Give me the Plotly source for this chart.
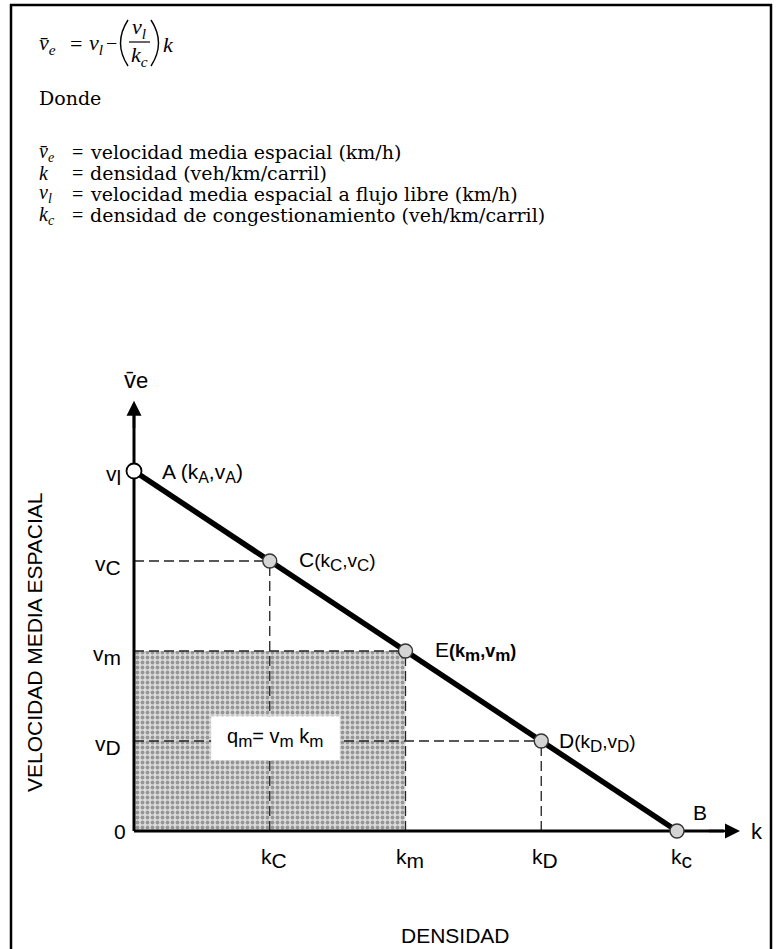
import plotly.graph_objects as go

W, H = 776, 949

# ---------------- data ----------------
point_names = ["A", "C", "E", "D", "B"]
k_vals = [0, 25, 50, 75, 100]          # densidad
v_vals = [100, 75, 50, 25, 0]          # velocidad media espacial
SUBS = "<sub><span style='font-size:{s}px'>{t}</span></sub>"
point_labels = ["A (k" + SUBS.format(s=16, t="A") + ",v" + SUBS.format(s=16, t="A") + ")",
                "C<span style='font-size:19px'>(k" + SUBS.format(s=17, t="C") + ",v" + SUBS.format(s=17, t="C") + ")</span>",
                "E<span style='font-size:18px'><b>(k" + SUBS.format(s=17, t="m") + ",v" + SUBS.format(s=17, t="m") + ")</b></span>",
                "D<span style='font-size:19px'>(k" + SUBS.format(s=17, t="D") + ",v" + SUBS.format(s=17, t="D") + ")</span>",
                "B"]
x_tick_vals = [25, 50, 75, 100]
x_tick_subs = ["C", "m", "D", "c"]
y_tick_vals = [100, 75, 50, 25, 0]
y_tick_subs = ["l", "C", "m", "D", None]
k_max_arrow = 111.6
v_max_arrow = 119.5

definitions = [
    ("<i>v\u0304<sub>e</sub></i>", "velocidad media espacial (km/h)"),
    ("<i>k</i>", "densidad (veh/km/carril)"),
    ("<i>v<sub>l</sub></i>", "velocidad media espacial a flujo libre (km/h)"),
    ("<i>k<sub>c</sub></i>", "densidad de congestionamiento (veh/km/carril)"),
]

# pixel mapping (plot area = full figure)
X0PX, XSCALE = 134, 5.43
Y0PX, YSCALE = 831, 3.6
xr = [(0 - X0PX) / XSCALE, (W - X0PX) / XSCALE]
yr = [(Y0PX - H) / YSCALE, Y0PX / YSCALE]

def px(x):
    return x / W

def py(y):
    return 1 - y / H

SANS = "Liberation Sans, Arial, sans-serif"
SERIF = "DejaVu Serif, Liberation Serif, serif"
MATH = "Liberation Serif, Times New Roman, serif"

fig = go.Figure()

# shaded rectangle q_m
km, vm = k_vals[2], v_vals[2]
fig.add_trace(go.Scatter(
    x=[0, km, km, 0, 0], y=[0, 0, vm, vm, 0], mode="lines", fill="toself",
    line=dict(width=0), fillcolor="rgba(0,0,0,0)",
    fillpattern=dict(shape=".", fgcolor="#505050", bgcolor="#dcdcdc", size=5, solidity=0.45),
    hoverinfo="skip", showlegend=False))

# dashed guide lines
dash = "10px,5px"
for k, v in zip(k_vals[1:4], v_vals[1:4]):
    fig.add_trace(go.Scatter(x=[0, k], y=[v, v], mode="lines",
                             line=dict(color="#222", width=1.3, dash=dash),
                             hoverinfo="skip", showlegend=False))
    fig.add_trace(go.Scatter(x=[k, k], y=[0, v], mode="lines",
                             line=dict(color="#222", width=1.3, dash=dash),
                             hoverinfo="skip", showlegend=False))

# white label box
bx0, bx1, by0, by1 = 14.2, 37.9, 19.7, 31.9
fig.add_trace(go.Scatter(x=[bx0, bx1, bx1, bx0, bx0], y=[by0, by0, by1, by1, by0],
                         mode="lines", fill="toself", fillcolor="white",
                         line=dict(width=0), hoverinfo="skip", showlegend=False))

# axes lines
fig.add_trace(go.Scatter(x=[0, 0], y=[0, v_max_arrow - 4], mode="lines",
                         line=dict(color="black", width=3), hoverinfo="skip", showlegend=False))
fig.add_trace(go.Scatter(x=[0, k_max_arrow - 3], y=[0, 0], mode="lines",
                         line=dict(color="black", width=3), hoverinfo="skip", showlegend=False))

# main line A-B
fig.add_trace(go.Scatter(x=[k_vals[0], k_vals[-1]], y=[v_vals[0], v_vals[-1]], mode="lines",
                         line=dict(color="black", width=5.5), hoverinfo="skip", showlegend=False))

# points
fig.add_trace(go.Scatter(x=k_vals[:1], y=v_vals[:1], mode="markers",
                         marker=dict(size=15, color="white", line=dict(color="black", width=1.8)),
                         hoverinfo="skip", showlegend=False))
fig.add_trace(go.Scatter(x=k_vals[1:], y=v_vals[1:], mode="markers",
                         marker=dict(size=14, color="#d4d4d4", line=dict(color="#333", width=1.4)),
                         hoverinfo="skip", showlegend=False))

ann = []
# axis arrows
ann.append(dict(x=0, y=v_max_arrow, ax=0, ay=v_max_arrow - 8, xref="x", yref="y", axref="x", ayref="y",
                text="", showarrow=True, arrowhead=2, arrowsize=1.2, arrowwidth=2.5, arrowcolor="black"))
ann.append(dict(x=k_max_arrow, y=0, ax=k_max_arrow - 6, ay=0, xref="x", yref="y", axref="x", ayref="y",
                text="", showarrow=True, arrowhead=2, arrowsize=1.2, arrowwidth=2.5, arrowcolor="black"))

# point labels (offsets in pixels converted to data units)
lbl_pos = [(26, -2), (27, 0), (27, 0), (16, -1), (14, 19)]
for (dx, dy), t, k, v in zip(lbl_pos, point_labels, k_vals, v_vals):
    ann.append(dict(x=k + dx / XSCALE, y=v + dy / YSCALE, xref="x", yref="y", text=t, showarrow=False,
                    xanchor="left", yanchor="middle", font=dict(family=SANS, size=21, color="black")))

# y tick labels
for v, s in zip(y_tick_vals, y_tick_subs):
    t = "0" if s is None else "v" + SUBS.format(s=21, t=s)
    xoff = -6 if s is None else -11
    ann.append(dict(x=xoff / XSCALE, y=v - (0 if s is None else 4 / YSCALE), xref="x", yref="y", text=t,
                    showarrow=False, xanchor="right", yanchor="middle",
                    font=dict(family=SANS, size=21, color="black")))
# x tick labels
for k, s in zip(x_tick_vals, x_tick_subs):
    t = "k" + SUBS.format(s=21, t=s)
    ann.append(dict(x=k + 4 / XSCALE, y=-12 / YSCALE, xref="x", yref="y", text=t, showarrow=False,
                    xanchor="center", yanchor="top", font=dict(family=SANS, size=21, color="black")))

# axis name labels
ann.append(dict(x=k_max_arrow + 9 / XSCALE, y=0, xref="x", yref="y", text="k", showarrow=False,
                xanchor="left", yanchor="middle", font=dict(family=SANS, size=22, color="black")))
ann.append(dict(x=2 / XSCALE, y=v_max_arrow + 6 / YSCALE, xref="x", yref="y",
                text="v\u0304<span style='font-size:22px'>e</span>", showarrow=False,
                xanchor="center", yanchor="bottom", font=dict(family=SANS, size=24, color="black")))
ann.append(dict(x=(bx0 + bx1) / 2, y=(by0 + by1) / 2, xref="x", yref="y",
                text="q" + SUBS.format(s=17, t="m") + "= v" + SUBS.format(s=17, t="m") + " k" + SUBS.format(s=17, t="m"),
                showarrow=False, xanchor="center", yanchor="middle", font=dict(family=SANS, size=20, color="black")))
ann.append(dict(x=px(455), y=py(935), xref="paper", yref="paper", text="DENSIDAD", showarrow=False,
                xanchor="center", yanchor="middle", font=dict(family=SANS, size=21, color="black")))
ann.append(dict(x=px(34), y=py(642), xref="paper", yref="paper", text="VELOCIDAD MEDIA ESPACIAL",
                showarrow=False, textangle=-90, xanchor="center", yanchor="middle",
                font=dict(family=SANS, size=21, color="black")))

# ---------------- top text (formula and definitions) ----------------
tf = dict(family=SERIF, size=19, color="black")
mf = dict(family=MATH, size=22, color="black")
sf = dict(family=MATH, size=20, color="black")

def put(x, y, text, font, anchor="left"):
    ann.append(dict(x=px(x), y=py(y), xref="paper", yref="paper", text=text, showarrow=False,
                    xanchor=anchor, yanchor="middle", font=font))

put(37, 44, "<i>v\u0304<sub>e</sub></i>", mf)
put(76, 44, "=", mf, "center")
put(87, 44, "<i>v<sub>l</sub></i>", mf)
put(112, 43, "\u2212", dict(family=MATH, size=20, color="black"), "center")
put(139, 28, "<i>v<sub>l</sub></i>", mf, "center")
put(139, 56, "<i>k<sub>c</sub></i>", mf, "center")
put(161, 45, "<i>k</i>", mf)

put(37, 98, "Donde", tf)
for i, (sym, desc) in enumerate(definitions):
    yy = 152 + i * 21
    put(37, yy, sym, sf)
    put(77, yy, "=", sf, "center")
    put(88, yy, desc, tf)

def P(x, y):
    return f"{px(x):.5f},{py(y):.5f}"

shapes = [
    # fraction bar
    dict(type="line", xref="paper", yref="paper", x0=px(129), x1=px(150), y0=py(42), y1=py(42),
         line=dict(color="black", width=1.2)),
    # parentheses
    dict(type="path", xref="paper", yref="paper",
         path=f"M {P(128, 20)} Q {P(113, 43)} {P(128, 66)}", line=dict(color="black", width=1.4)),
    dict(type="path", xref="paper", yref="paper",
         path=f"M {P(151, 20)} Q {P(166, 43)} {P(151, 66)}", line=dict(color="black", width=1.4)),
    # frame
    dict(type="line", xref="paper", yref="paper", x0=px(11), x1=px(11), y0=py(4), y1=0,
         line=dict(color="black", width=2.5)),
    dict(type="line", xref="paper", yref="paper", x0=px(10), x1=px(772), y0=py(5), y1=py(5),
         line=dict(color="black", width=2.5)),
    dict(type="line", xref="paper", yref="paper", x0=px(771), x1=px(771), y0=py(4), y1=0,
         line=dict(color="black", width=2.5)),
]

fig.update_layout(
    width=W, height=H, margin=dict(l=0, r=0, t=0, b=0),
    paper_bgcolor="white", plot_bgcolor="white",
    xaxis=dict(range=xr, visible=False, fixedrange=True),
    yaxis=dict(range=yr, visible=False, fixedrange=True),
    annotations=ann, shapes=shapes, showlegend=False,
)

fig.write_html("out.html")
